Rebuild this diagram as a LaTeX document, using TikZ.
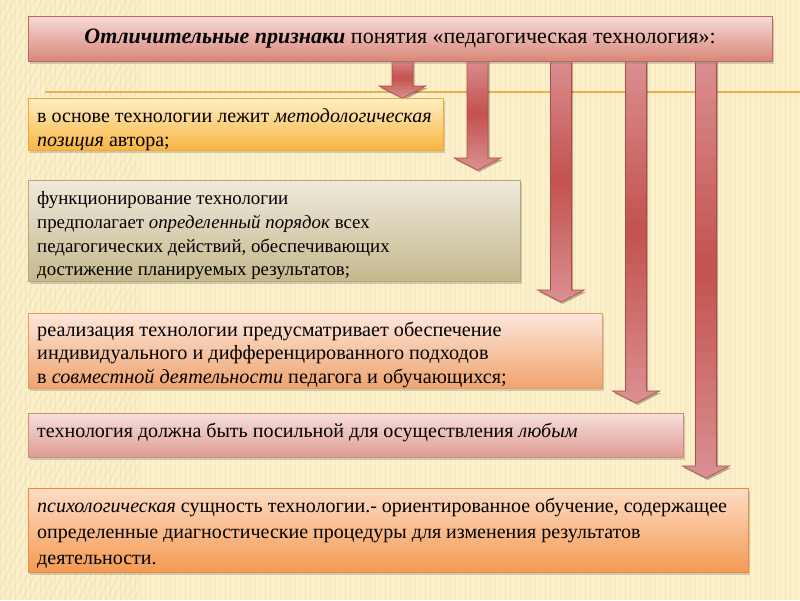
\documentclass[tikz,border=0pt]{standalone}
\usepackage{fontspec}
\setmainfont{Liberation Serif}
\usetikzlibrary{shadows}
\definecolor{bg}{HTML}{FBF0CA}
\definecolor{stripe}{HTML}{EAD6A0}
\definecolor{orline}{HTML}{EDAE4E}
\definecolor{titletop}{HTML}{F6DAD6}
\definecolor{titlebot}{HTML}{D98679}
\definecolor{redb}{HTML}{B04A48}
\definecolor{arrtop}{HTML}{DA8E8F}
\definecolor{arrmid}{HTML}{C3514F}
\definecolor{oatop}{HTML}{FFEFC2}
\definecolor{oabot}{HTML}{F8B440}
\definecolor{oaline}{HTML}{F0A830}
\definecolor{tntop}{HTML}{EFE9DC}
\definecolor{tnbot}{HTML}{C4B88C}
\definecolor{tnline}{HTML}{B4A878}
\definecolor{pctop}{HTML}{FCE6DA}
\definecolor{pcbot}{HTML}{F0A46E}
\definecolor{pcline}{HTML}{E89A66}
\definecolor{pktop}{HTML}{F6DEDB}
\definecolor{pkbot}{HTML}{DE9C92}
\definecolor{pkline}{HTML}{D08A80}
\definecolor{ortop}{HTML}{FDDCC4}
\definecolor{ormid}{HTML}{F7A663}
\definecolor{orbot}{HTML}{F49A52}
\definecolor{orln}{HTML}{E88A40}
\tikzset{
  boxbase/.style={draw, line width=0.8pt, anchor=north west, inner sep=0pt,
    drop shadow={shadow xshift=2pt, shadow yshift=-3pt, opacity=0.35}},
  boxtext/.style={anchor=west, inner xsep=9pt, inner ysep=0pt, align=left,
    font=\fontsize{#1}{23.7}\selectfont},
  boxtext/.default=19
}
\newcommand{\arrpath}[2]{(#1-10.5,58) -- (#1+10.5,58) -- (#1+10.5,#2-12) -- (#1+23.5,#2-12)
     -- (#1,#2) -- (#1-23.5,#2-12) -- (#1-10.5,#2-12) -- cycle}
\newcommand{\blockarr}[3]{%
  \coordinate (#1) at (#2,#3);
  \fill[black, opacity=0.28, xshift=1.5pt, yshift=-2pt] \arrpath{#2}{#3};
  \begin{scope}
    \clip \arrpath{#2}{#3};
    \foreach \i in {0,...,29} {
      \pgfmathsetmacro\ya{58+(#3-58)*\i/30}
      \pgfmathsetmacro\yb{58+(#3-58)*(\i+1)/30+0.6}
      \pgfmathtruncatemacro\tt{abs(\i-14.5)/14.5*100}
      \fill[arrtop!\tt!arrmid] (#2-24,\ya) rectangle (#2+24,\yb);
    }
  \end{scope}
  \draw[redb, line width=0.6pt] \arrpath{#2}{#3};}
\begin{document}
\begin{tikzpicture}[x=1pt,y=-1pt]
\useasboundingbox (0,0) rectangle (800,600);
\fill[bg] (0,0) rectangle (800,600);
\foreach \x in {0,5,...,800} {\draw[stripe, opacity=0.3, line width=1pt] (\x,0) -- (\x,600);}
\begin{scope}
\clip (0,0) rectangle (140,600);
\foreach \k in {0,7,...,700} {\draw[stripe, opacity=0.35, line width=1.2pt] (\k-300,600) -- (\k,0);}
\end{scope}
\draw[orline, line width=1.5pt] (45,92) -- (800,92);
% arrows
\blockarr{a1}{402.5}{98}
\blockarr{a2}{477.5}{170}
\blockarr{a3}{561}{302}
\blockarr{a4}{636}{403}
\blockarr{a5}{706}{478}
% title
\node[draw=redb!85, line width=0.8pt, top color=titletop, bottom color=titlebot,
  minimum width=744pt, minimum height=45pt, inner sep=0pt,
  drop shadow={shadow xshift=2pt, shadow yshift=-3pt, opacity=0.35},
  font=\fontsize{22}{26}\selectfont] (title) at (400,38.5)
  {\textbf{\textit{Отличительные признаки}} понятия «педагогическая технология»:};
% boxes
\node[boxbase, draw=oaline, top color=oatop, bottom color=oabot, minimum width=415pt, minimum height=52pt] (b1) at (28,98) {};
\node[boxtext=20] (t1) at ([yshift=-5pt]b1.west)
  {в основе технологии лежит \textit{методологическая}\\\textit{позиция} автора;};
\node[boxbase, draw=tnline, top color=tntop, bottom color=tnbot, minimum width=492pt, minimum height=101pt] (b2) at (28,180) {};
\node[boxtext=18.85] (t2) at ([yshift=-5pt]b2.west)
  {функционирование технологии\\предполагает \textit{определенный порядок} всех\\педагогических действий, обеспечивающих\\достижение планируемых результатов;};
\node[boxbase, draw=pcline, top color=pctop, bottom color=pcbot, minimum width=574pt, minimum height=75pt] (b3) at (28,313) {};
\node[boxtext=20.2] (t3) at ([yshift=-4pt]b3.west)
  {реализация технологии предусматривает обеспечение\\индивидуального и дифференцированного подходов\\в \textit{совместной деятельности} педагога и обучающихся;};
\node[boxbase, draw=pkline, top color=pktop, bottom color=pkbot, minimum width=655pt, minimum height=44pt] (b4) at (28,413) {};
\node[boxtext=20] (t4) at ([yshift=3pt]b4.west)
  {технология должна быть посильной для осуществления \textit{любым}};
\node[boxbase, draw=orln, top color=ortop, middle color=ormid, bottom color=orbot, minimum width=720pt, minimum height=84pt] (b5) at (28,488) {};
\node[boxtext=20, font=\fontsize{20}{26}\selectfont] (t5) at ([yshift=-3pt]b5.west)
  {\textit{психологическая} сущность технологии.- ориентированное обучение, содержащее\\определенные диагностические процедуры для изменения результатов\\деятельности.};
\end{tikzpicture}
\end{document}
